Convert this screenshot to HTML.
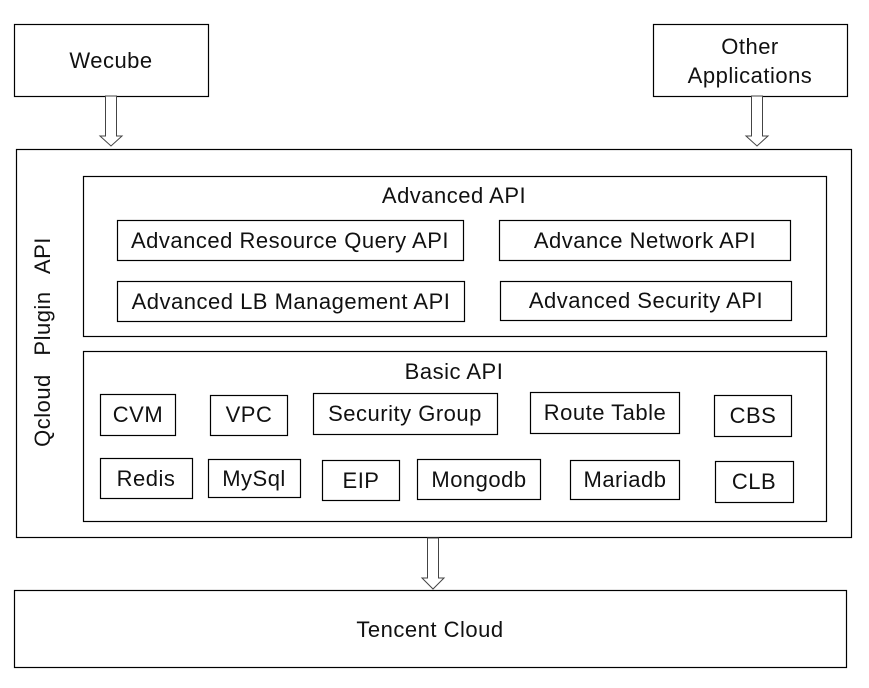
<!DOCTYPE html>
<html><head><meta charset="utf-8"><style>
html,body{margin:0;padding:0;background:#fff;}
svg{display:block;}
text{font-family:"Liberation Sans",sans-serif;fill:#111;letter-spacing:0.5px;}
</style></head><body>
<svg width="869" height="688" viewBox="0 0 869 688" xmlns="http://www.w3.org/2000/svg">
<g fill="none" stroke="#000" stroke-width="1.2">
<rect x="14.5" y="24.5" width="194" height="72"/>
<rect x="653.5" y="24.5" width="194" height="72"/>
<rect x="16.5" y="149.5" width="835" height="388"/>
<rect x="83.5" y="176.5" width="743" height="160"/>
<rect x="83.5" y="351.5" width="743" height="170"/>
<rect x="117.5" y="220.5" width="346" height="40"/>
<rect x="499.5" y="220.5" width="291" height="40"/>
<rect x="117.5" y="281.5" width="347" height="40"/>
<rect x="500.5" y="281.5" width="291" height="39"/>
<rect x="100.5" y="394.5" width="75" height="41"/>
<rect x="210.5" y="395.5" width="77" height="40"/>
<rect x="313.5" y="393.5" width="184" height="41"/>
<rect x="530.5" y="392.5" width="149" height="41"/>
<rect x="714.5" y="395.5" width="77" height="41"/>
<rect x="100.5" y="458.5" width="92" height="40"/>
<rect x="208.5" y="459.5" width="92" height="38"/>
<rect x="322.5" y="460.5" width="77" height="40"/>
<rect x="417.5" y="459.5" width="123" height="40"/>
<rect x="570.5" y="460.5" width="109" height="39"/>
<rect x="715.5" y="461.5" width="78" height="41"/>
<rect x="14.5" y="590.5" width="832" height="77"/>
</g>
<g fill="#fff" stroke="#444" stroke-width="1">
<path d="M105.5 96 V136 H100 L111 146 L122 136 H116.5 V96 Z"/>
<path d="M751.5 96 V136 H746 L757 146 L768 136 H762.5 V96 Z"/>
<path d="M427.5 538 V578 H422 L433 589 L444 578 H438.5 V538 Z"/>
</g>
<g font-size="22" text-anchor="middle">
<text x="111" y="68">Wecube</text>
<text x="750" y="54">Other</text>
<text x="750" y="83">Applications</text>
<text x="454" y="203">Advanced API</text>
<text x="290" y="248">Advanced Resource Query API</text>
<text x="645" y="248">Advance Network API</text>
<text x="291" y="309">Advanced LB Management API</text>
<text x="646" y="308">Advanced Security API</text>
<text x="454" y="379">Basic API</text>
<text x="138" y="422">CVM</text>
<text x="249" y="422">VPC</text>
<text x="405" y="421">Security Group</text>
<text x="605" y="420">Route Table</text>
<text x="753" y="423">CBS</text>
<text x="146" y="486">Redis</text>
<text x="254" y="486">MySql</text>
<text x="361" y="488">EIP</text>
<text x="479" y="487">Mongodb</text>
<text x="625" y="487">Mariadb</text>
<text x="754" y="489">CLB</text>
<text x="430" y="637">Tencent Cloud</text>
<text transform="translate(50,342) rotate(-90)" word-spacing="12">Qcloud Plugin API</text>
</g>
</svg>
</body></html>
